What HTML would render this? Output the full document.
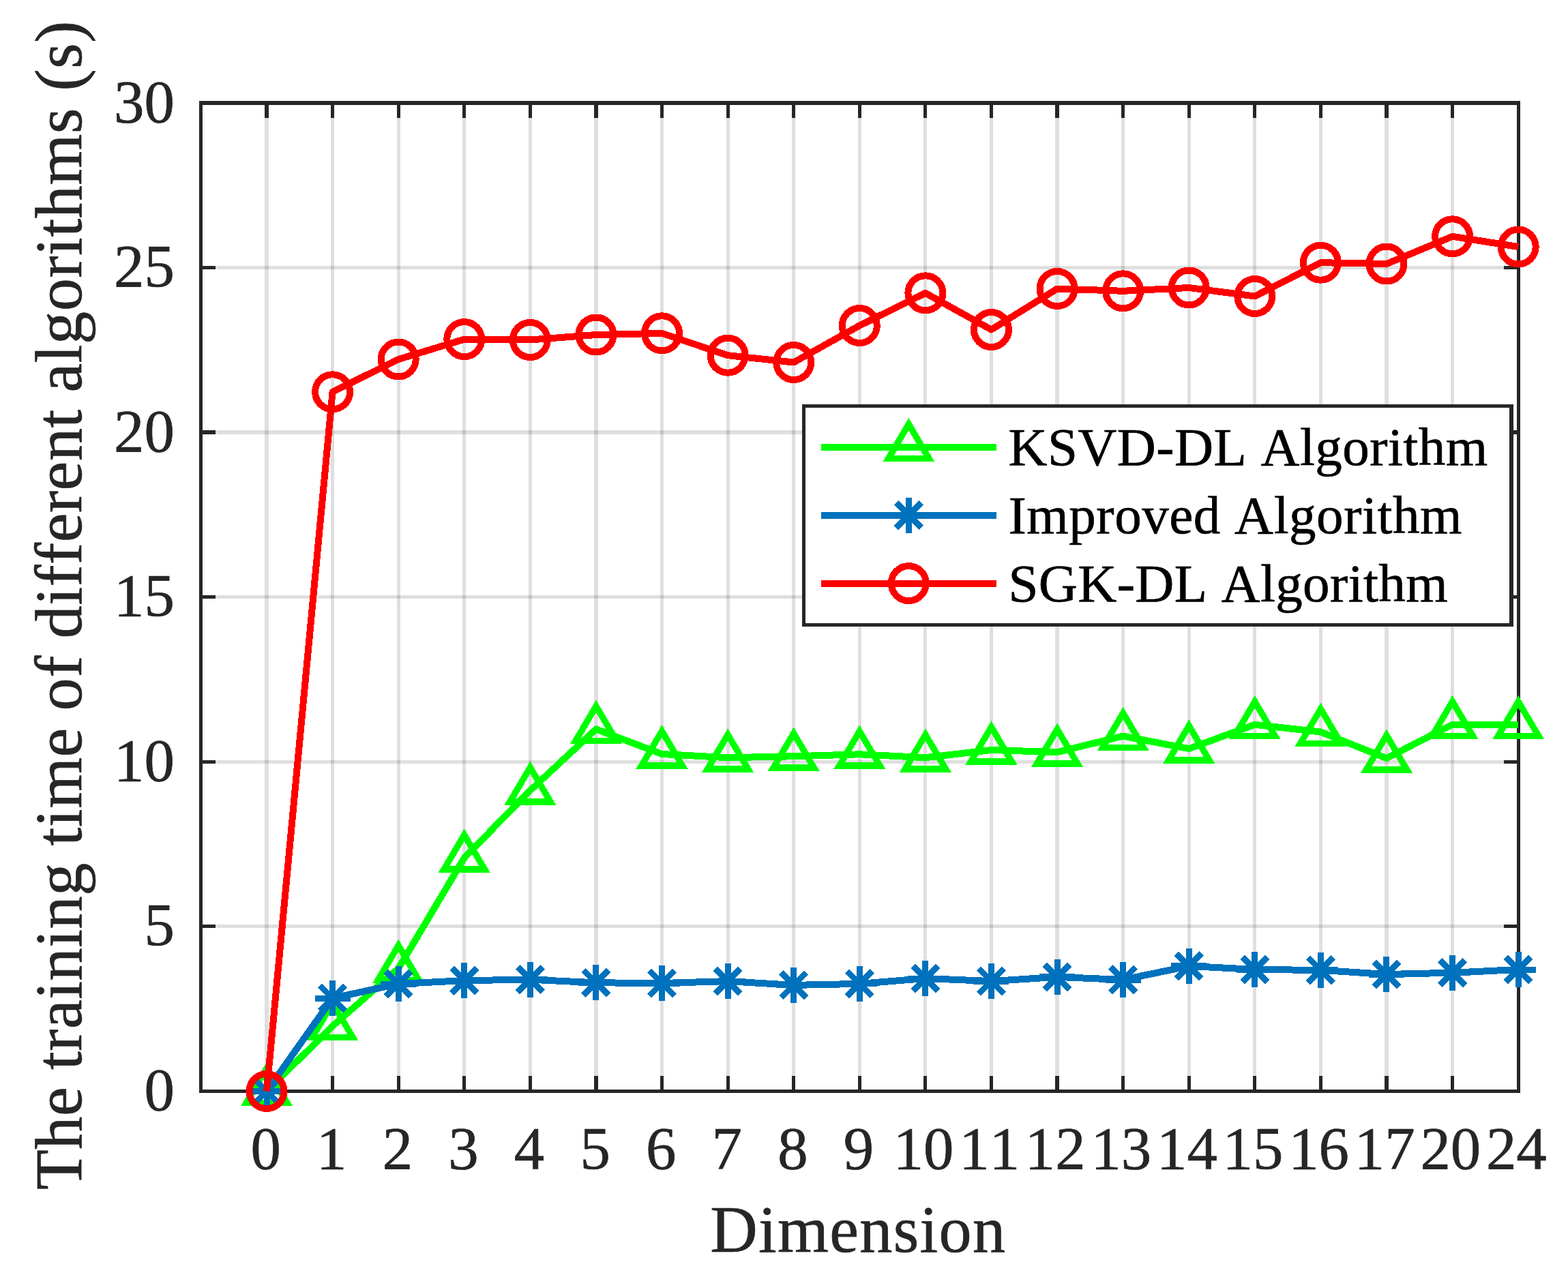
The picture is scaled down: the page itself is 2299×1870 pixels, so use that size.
<!DOCTYPE html>
<html lang="en"><head><meta charset="utf-8"><title>Training time of different algorithms</title>
<style>
html,body{margin:0;padding:0;background:#fff;}
body{width:2299px;height:1870px;overflow:hidden;}
svg{display:block;}
text{font-family:"Liberation Serif","Times New Roman",Times,serif;font-kerning:none;font-variant-ligatures:none;}
.tk{font-size:88.8px;fill:#262626;stroke:#262626;stroke-width:0.7px;}
.lb{font-size:96.3px;fill:#262626;stroke:#262626;stroke-width:0.7px;}
.lg{font-size:79px;fill:#000;stroke:#000;stroke-width:0.7px;}
</style></head><body>
<svg width="2299" height="1870" viewBox="0 0 2299 1870">
<rect x="0" y="0" width="2299" height="1870" fill="#fff"/>
<g fill="#262626" fill-opacity="0.15" shape-rendering="crispEdges">
<rect x="388" y="154" width="6" height="1444"/>
<rect x="485" y="154" width="5" height="1444"/>
<rect x="582" y="154" width="5" height="1444"/>
<rect x="678" y="154" width="5" height="1444"/>
<rect x="775" y="154" width="5" height="1444"/>
<rect x="871" y="154" width="6" height="1444"/>
<rect x="968" y="154" width="5" height="1444"/>
<rect x="1065" y="154" width="5" height="1444"/>
<rect x="1161" y="154" width="5" height="1444"/>
<rect x="1258" y="154" width="5" height="1444"/>
<rect x="1354" y="154" width="5" height="1444"/>
<rect x="1451" y="154" width="5" height="1444"/>
<rect x="1547" y="154" width="6" height="1444"/>
<rect x="1644" y="154" width="5" height="1444"/>
<rect x="1741" y="154" width="5" height="1444"/>
<rect x="1837" y="154" width="5" height="1444"/>
<rect x="1934" y="154" width="5" height="1444"/>
<rect x="2030" y="154" width="6" height="1444"/>
<rect x="2127" y="154" width="5" height="1444"/>
<rect x="297" y="1356" width="1927" height="5"/>
<rect x="297" y="1115" width="1927" height="5"/>
<rect x="297" y="873" width="1927" height="5"/>
<rect x="297" y="631" width="1927" height="6"/>
<rect x="297" y="390" width="1927" height="5"/>
</g>
<g fill="#262626" shape-rendering="crispEdges">
<rect x="388" y="1578" width="6" height="25" fill="#fff"/>
<rect x="388" y="148" width="6" height="25" fill="#fff"/>
<rect x="388" y="1578" width="6" height="25"/>
<rect x="388" y="148" width="6" height="25"/>
<rect x="485" y="1578" width="5" height="25" fill="#fff"/>
<rect x="485" y="148" width="5" height="25" fill="#fff"/>
<rect x="485" y="1578" width="5" height="25"/>
<rect x="485" y="148" width="5" height="25"/>
<rect x="582" y="1578" width="5" height="25" fill="#fff"/>
<rect x="582" y="148" width="5" height="25" fill="#fff"/>
<rect x="582" y="1578" width="5" height="25"/>
<rect x="582" y="148" width="5" height="25"/>
<rect x="678" y="1578" width="5" height="25" fill="#fff"/>
<rect x="678" y="148" width="5" height="25" fill="#fff"/>
<rect x="678" y="1578" width="5" height="25"/>
<rect x="678" y="148" width="5" height="25"/>
<rect x="775" y="1578" width="5" height="25" fill="#fff"/>
<rect x="775" y="148" width="5" height="25" fill="#fff"/>
<rect x="775" y="1578" width="5" height="25"/>
<rect x="775" y="148" width="5" height="25"/>
<rect x="871" y="1578" width="6" height="25" fill="#fff"/>
<rect x="871" y="148" width="6" height="25" fill="#fff"/>
<rect x="871" y="1578" width="6" height="25"/>
<rect x="871" y="148" width="6" height="25"/>
<rect x="968" y="1578" width="5" height="25" fill="#fff"/>
<rect x="968" y="148" width="5" height="25" fill="#fff"/>
<rect x="968" y="1578" width="5" height="25"/>
<rect x="968" y="148" width="5" height="25"/>
<rect x="1065" y="1578" width="5" height="25" fill="#fff"/>
<rect x="1065" y="148" width="5" height="25" fill="#fff"/>
<rect x="1065" y="1578" width="5" height="25"/>
<rect x="1065" y="148" width="5" height="25"/>
<rect x="1161" y="1578" width="5" height="25" fill="#fff"/>
<rect x="1161" y="148" width="5" height="25" fill="#fff"/>
<rect x="1161" y="1578" width="5" height="25"/>
<rect x="1161" y="148" width="5" height="25"/>
<rect x="1258" y="1578" width="5" height="25" fill="#fff"/>
<rect x="1258" y="148" width="5" height="25" fill="#fff"/>
<rect x="1258" y="1578" width="5" height="25"/>
<rect x="1258" y="148" width="5" height="25"/>
<rect x="1354" y="1578" width="5" height="25" fill="#fff"/>
<rect x="1354" y="148" width="5" height="25" fill="#fff"/>
<rect x="1354" y="1578" width="5" height="25"/>
<rect x="1354" y="148" width="5" height="25"/>
<rect x="1451" y="1578" width="5" height="25" fill="#fff"/>
<rect x="1451" y="148" width="5" height="25" fill="#fff"/>
<rect x="1451" y="1578" width="5" height="25"/>
<rect x="1451" y="148" width="5" height="25"/>
<rect x="1547" y="1578" width="6" height="25" fill="#fff"/>
<rect x="1547" y="148" width="6" height="25" fill="#fff"/>
<rect x="1547" y="1578" width="6" height="25"/>
<rect x="1547" y="148" width="6" height="25"/>
<rect x="1644" y="1578" width="5" height="25" fill="#fff"/>
<rect x="1644" y="148" width="5" height="25" fill="#fff"/>
<rect x="1644" y="1578" width="5" height="25"/>
<rect x="1644" y="148" width="5" height="25"/>
<rect x="1741" y="1578" width="5" height="25" fill="#fff"/>
<rect x="1741" y="148" width="5" height="25" fill="#fff"/>
<rect x="1741" y="1578" width="5" height="25"/>
<rect x="1741" y="148" width="5" height="25"/>
<rect x="1837" y="1578" width="5" height="25" fill="#fff"/>
<rect x="1837" y="148" width="5" height="25" fill="#fff"/>
<rect x="1837" y="1578" width="5" height="25"/>
<rect x="1837" y="148" width="5" height="25"/>
<rect x="1934" y="1578" width="5" height="25" fill="#fff"/>
<rect x="1934" y="148" width="5" height="25" fill="#fff"/>
<rect x="1934" y="1578" width="5" height="25"/>
<rect x="1934" y="148" width="5" height="25"/>
<rect x="2030" y="1578" width="6" height="25" fill="#fff"/>
<rect x="2030" y="148" width="6" height="25" fill="#fff"/>
<rect x="2030" y="1578" width="6" height="25"/>
<rect x="2030" y="148" width="6" height="25"/>
<rect x="2127" y="1578" width="5" height="25" fill="#fff"/>
<rect x="2127" y="148" width="5" height="25" fill="#fff"/>
<rect x="2127" y="1578" width="5" height="25"/>
<rect x="2127" y="148" width="5" height="25"/>
<rect x="292" y="1356" width="24" height="5" fill="#fff"/>
<rect x="2205" y="1356" width="24" height="5" fill="#fff"/>
<rect x="292" y="1356" width="24" height="5"/>
<rect x="2205" y="1356" width="24" height="5"/>
<rect x="292" y="1115" width="24" height="5" fill="#fff"/>
<rect x="2205" y="1115" width="24" height="5" fill="#fff"/>
<rect x="292" y="1115" width="24" height="5"/>
<rect x="2205" y="1115" width="24" height="5"/>
<rect x="292" y="873" width="24" height="5" fill="#fff"/>
<rect x="2205" y="873" width="24" height="5" fill="#fff"/>
<rect x="292" y="873" width="24" height="5"/>
<rect x="2205" y="873" width="24" height="5"/>
<rect x="292" y="631" width="24" height="6" fill="#fff"/>
<rect x="2205" y="631" width="24" height="6" fill="#fff"/>
<rect x="292" y="631" width="24" height="6"/>
<rect x="2205" y="631" width="24" height="6"/>
<rect x="292" y="390" width="24" height="5" fill="#fff"/>
<rect x="2205" y="390" width="24" height="5" fill="#fff"/>
<rect x="292" y="390" width="24" height="5"/>
<rect x="2205" y="390" width="24" height="5"/>
<rect x="292" y="148" width="1937" height="6"/>
<rect x="292" y="1598" width="1937" height="5"/>
<rect x="292" y="148" width="5" height="1455"/>
<rect x="2224" y="148" width="5" height="1455"/>
</g>
<g class="tk" text-anchor="middle">
<text x="389.7" y="1714.1">0</text>
<text x="486.29" y="1714.1">1</text>
<text x="582.87" y="1714.1">2</text>
<text x="679.46" y="1714.1">3</text>
<text x="776.05" y="1714.1">4</text>
<text x="872.64" y="1714.1">5</text>
<text x="969.23" y="1714.1">6</text>
<text x="1065.81" y="1714.1">7</text>
<text x="1162.4" y="1714.1">8</text>
<text x="1258.99" y="1714.1">9</text>
<text x="1354.08" y="1714.1">10</text>
<text x="1450.67" y="1714.1">11</text>
<text x="1547.25" y="1714.1">12</text>
<text x="1643.84" y="1714.1">13</text>
<text x="1740.43" y="1714.1">14</text>
<text x="1837.02" y="1714.1">15</text>
<text x="1933.61" y="1714.1">16</text>
<text x="2030.19" y="1714.1">17</text>
<text x="2126.78" y="1714.1">20</text>
<text x="2223.37" y="1714.1">24</text>
</g>
<g class="tk" text-anchor="end">
<text x="255.8" y="1627.9">0</text>
<text x="255.8" y="1386.37">5</text>
<text x="255.8" y="1144.83">10</text>
<text x="255.8" y="903.3">15</text>
<text x="255.8" y="661.77">20</text>
<text x="255.8" y="420.23">25</text>
<text x="255.8" y="178.7">30</text>
</g>
<text class="lb" x="1041.2" y="1836" style="letter-spacing:1.29px">Dimension</text>
<text class="lb" transform="translate(119 1745) rotate(-90)" style="letter-spacing:0.55px">The training time of different algorithms (s)</text>
<g fill="none" stroke-width="10" stroke-linecap="butt" shape-rendering="crispEdges">
<g stroke="#00ff00" stroke-linejoin="round">
<polyline points="391,1600.5 487.59,1504.9 584.17,1420.4 680.76,1258.2 777.35,1159.3 873.94,1069.4 970.53,1106 1067.11,1111.2 1163.7,1109.3 1260.29,1106.3 1356.88,1111.2 1453.47,1100 1550.05,1103.2 1646.64,1079.6 1743.23,1098.1 1839.82,1062.8 1936.41,1073.5 2032.99,1112.2 2129.58,1062.6 2226.17,1062.8"/>
</g>
<g stroke="#00ff00" stroke-linejoin="miter" stroke-miterlimit="10">
<path stroke-width="9.4" d="M391 1566.83L420.8 1617.33L361.2 1617.33Z"/>
<path stroke-width="9.4" d="M487.59 1471.23L517.39 1521.73L457.79 1521.73Z"/>
<path stroke-width="9.4" d="M584.17 1386.73L613.97 1437.23L554.37 1437.23Z"/>
<path stroke-width="9.4" d="M680.76 1224.53L710.56 1275.03L650.96 1275.03Z"/>
<path stroke-width="9.4" d="M777.35 1125.63L807.15 1176.13L747.55 1176.13Z"/>
<path stroke-width="9.4" d="M873.94 1035.73L903.74 1086.23L844.14 1086.23Z"/>
<path stroke-width="9.4" d="M970.53 1072.33L1000.33 1122.83L940.73 1122.83Z"/>
<path stroke-width="9.4" d="M1067.11 1077.53L1096.91 1128.03L1037.31 1128.03Z"/>
<path stroke-width="9.4" d="M1163.7 1075.63L1193.5 1126.13L1133.9 1126.13Z"/>
<path stroke-width="9.4" d="M1260.29 1072.63L1290.09 1123.13L1230.49 1123.13Z"/>
<path stroke-width="9.4" d="M1356.88 1077.53L1386.68 1128.03L1327.08 1128.03Z"/>
<path stroke-width="9.4" d="M1453.47 1066.33L1483.27 1116.83L1423.67 1116.83Z"/>
<path stroke-width="9.4" d="M1550.05 1069.53L1579.85 1120.03L1520.25 1120.03Z"/>
<path stroke-width="9.4" d="M1646.64 1045.93L1676.44 1096.43L1616.84 1096.43Z"/>
<path stroke-width="9.4" d="M1743.23 1064.43L1773.03 1114.93L1713.43 1114.93Z"/>
<path stroke-width="9.4" d="M1839.82 1029.13L1869.62 1079.63L1810.02 1079.63Z"/>
<path stroke-width="9.4" d="M1936.41 1039.83L1966.21 1090.33L1906.61 1090.33Z"/>
<path stroke-width="9.4" d="M2032.99 1078.53L2062.79 1129.03L2003.19 1129.03Z"/>
<path stroke-width="9.4" d="M2129.58 1028.93L2159.38 1079.43L2099.78 1079.43Z"/>
<path stroke-width="9.4" d="M2226.17 1029.13L2255.97 1079.63L2196.37 1079.63Z"/>
</g>
<g stroke="#0072bd" stroke-linejoin="round">
<polyline points="391,1600.5 487.59,1464 584.17,1443 680.76,1438.1 777.35,1436.7 873.94,1441.3 970.53,1442 1067.11,1439.1 1163.7,1444.9 1260.29,1442.9 1356.88,1435 1453.47,1439.1 1550.05,1432.9 1646.64,1437 1743.23,1416.9 1839.82,1422 1936.41,1422.9 2032.99,1429 2129.58,1426.7 2226.17,1422"/>
</g>
<g stroke="#0072bd" stroke-linejoin="miter" stroke-miterlimit="10">
<path stroke-width="9" d="M365 1600.5H417M391 1574.5V1626.5M372.61 1582.12L409.38 1618.88M372.61 1618.88L409.38 1582.12"/>
<path stroke-width="9" d="M461.59 1464H513.59M487.59 1438V1490M469.2 1445.62L505.97 1482.38M469.2 1482.38L505.97 1445.62"/>
<path stroke-width="9" d="M558.17 1443H610.17M584.17 1417V1469M565.79 1424.62L602.56 1461.38M565.79 1461.38L602.56 1424.62"/>
<path stroke-width="9" d="M654.76 1438.1H706.76M680.76 1412.1V1464.1M662.38 1419.72L699.15 1456.48M662.38 1456.48L699.15 1419.72"/>
<path stroke-width="9" d="M751.35 1436.7H803.35M777.35 1410.7V1462.7M758.97 1418.32L795.73 1455.08M758.97 1455.08L795.73 1418.32"/>
<path stroke-width="9" d="M847.94 1441.3H899.94M873.94 1415.3V1467.3M855.55 1422.92L892.32 1459.68M855.55 1459.68L892.32 1422.92"/>
<path stroke-width="9" d="M944.53 1442H996.53M970.53 1416V1468M952.14 1423.62L988.91 1460.38M952.14 1460.38L988.91 1423.62"/>
<path stroke-width="9" d="M1041.11 1439.1H1093.11M1067.11 1413.1V1465.1M1048.73 1420.72L1085.5 1457.48M1048.73 1457.48L1085.5 1420.72"/>
<path stroke-width="9" d="M1137.7 1444.9H1189.7M1163.7 1418.9V1470.9M1145.32 1426.52L1182.09 1463.28M1145.32 1463.28L1182.09 1426.52"/>
<path stroke-width="9" d="M1234.29 1442.9H1286.29M1260.29 1416.9V1468.9M1241.91 1424.52L1278.67 1461.28M1241.91 1461.28L1278.67 1424.52"/>
<path stroke-width="9" d="M1330.88 1435H1382.88M1356.88 1409V1461M1338.49 1416.62L1375.26 1453.38M1338.49 1453.38L1375.26 1416.62"/>
<path stroke-width="9" d="M1427.47 1439.1H1479.47M1453.47 1413.1V1465.1M1435.08 1420.72L1471.85 1457.48M1435.08 1457.48L1471.85 1420.72"/>
<path stroke-width="9" d="M1524.05 1432.9H1576.05M1550.05 1406.9V1458.9M1531.67 1414.52L1568.44 1451.28M1531.67 1451.28L1568.44 1414.52"/>
<path stroke-width="9" d="M1620.64 1437H1672.64M1646.64 1411V1463M1628.26 1418.62L1665.03 1455.38M1628.26 1455.38L1665.03 1418.62"/>
<path stroke-width="9" d="M1717.23 1416.9H1769.23M1743.23 1390.9V1442.9M1724.85 1398.52L1761.61 1435.28M1724.85 1435.28L1761.61 1398.52"/>
<path stroke-width="9" d="M1813.82 1422H1865.82M1839.82 1396V1448M1821.43 1403.62L1858.2 1440.38M1821.43 1440.38L1858.2 1403.62"/>
<path stroke-width="9" d="M1910.41 1422.9H1962.41M1936.41 1396.9V1448.9M1918.02 1404.52L1954.79 1441.28M1918.02 1441.28L1954.79 1404.52"/>
<path stroke-width="9" d="M2006.99 1429H2058.99M2032.99 1403V1455M2014.61 1410.62L2051.38 1447.38M2014.61 1447.38L2051.38 1410.62"/>
<path stroke-width="9" d="M2103.58 1426.7H2155.58M2129.58 1400.7V1452.7M2111.2 1408.32L2147.97 1445.08M2111.2 1445.08L2147.97 1408.32"/>
<path stroke-width="9" d="M2200.17 1422H2252.17M2226.17 1396V1448M2207.79 1403.62L2244.55 1440.38M2207.79 1440.38L2244.55 1403.62"/>
</g>
<g stroke="#ff0000" stroke-linejoin="round">
<polyline points="391,1600.5 487.59,574.8 584.17,527 680.76,497.6 777.35,498.5 873.94,491 970.53,488.8 1067.11,521.2 1163.7,531.5 1260.29,477.5 1356.88,429.8 1453.47,483.5 1550.05,423.5 1646.64,426.8 1743.23,422 1839.82,434.5 1936.41,385.2 2032.99,387 2129.58,346.8 2226.17,362"/>
</g>
<g stroke="#ff0000" stroke-linejoin="miter" stroke-miterlimit="10">
<circle cx="391" cy="1600.5" r="25.5"/>
<circle cx="487.59" cy="574.8" r="25.5"/>
<circle cx="584.17" cy="527" r="25.5"/>
<circle cx="680.76" cy="497.6" r="25.5"/>
<circle cx="777.35" cy="498.5" r="25.5"/>
<circle cx="873.94" cy="491" r="25.5"/>
<circle cx="970.53" cy="488.8" r="25.5"/>
<circle cx="1067.11" cy="521.2" r="25.5"/>
<circle cx="1163.7" cy="531.5" r="25.5"/>
<circle cx="1260.29" cy="477.5" r="25.5"/>
<circle cx="1356.88" cy="429.8" r="25.5"/>
<circle cx="1453.47" cy="483.5" r="25.5"/>
<circle cx="1550.05" cy="423.5" r="25.5"/>
<circle cx="1646.64" cy="426.8" r="25.5"/>
<circle cx="1743.23" cy="422" r="25.5"/>
<circle cx="1839.82" cy="434.5" r="25.5"/>
<circle cx="1936.41" cy="385.2" r="25.5"/>
<circle cx="2032.99" cy="387" r="25.5"/>
<circle cx="2129.58" cy="346.8" r="25.5"/>
<circle cx="2226.17" cy="362" r="25.5"/>
</g>
</g>
<g shape-rendering="crispEdges">
<rect x="1176" y="593" width="1043" height="326" fill="#262626"/>
<rect x="1181" y="598" width="1032" height="316" fill="#fff"/>
</g>
<g stroke="#00ff00" stroke-width="10" fill="none" stroke-linejoin="miter" stroke-miterlimit="10" shape-rendering="crispEdges">
<line x1="1203.6" y1="655.8" x2="1461.1" y2="655.8"/>
<path stroke-width="9.4" d="M1332.3 622.13L1362.1 672.63L1302.5 672.63Z"/>
</g>
<text class="lg" x="1478.5" y="682.1" style="letter-spacing:0.44px">KSVD-DL Algorithm</text>
<g stroke="#0072bd" stroke-width="10" fill="none" stroke-linejoin="miter" stroke-miterlimit="10" shape-rendering="crispEdges">
<line x1="1203.6" y1="755.6" x2="1461.1" y2="755.6"/>
<path stroke-width="9" d="M1306.3 755.6H1358.3M1332.3 729.6V781.6M1313.92 737.22L1350.68 773.98M1313.92 773.98L1350.68 737.22"/>
</g>
<text class="lg" x="1478.5" y="781.9" style="letter-spacing:0.52px">Improved Algorithm</text>
<g stroke="#ff0000" stroke-width="10" fill="none" stroke-linejoin="miter" stroke-miterlimit="10" shape-rendering="crispEdges">
<line x1="1203.6" y1="855.6" x2="1461.1" y2="855.6"/>
<circle cx="1332.3" cy="855.6" r="25.5"/>
</g>
<text class="lg" x="1478.5" y="881.9" style="letter-spacing:0.37px">SGK-DL Algorithm</text>
</svg>
</body></html>
